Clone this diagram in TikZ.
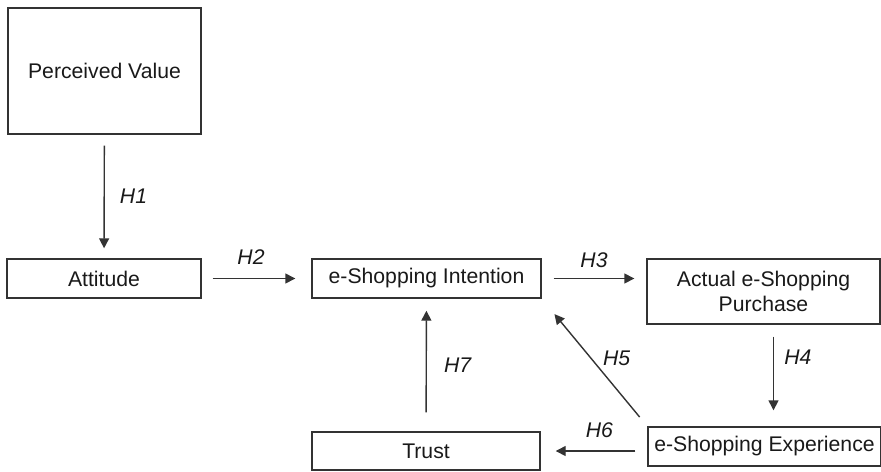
\documentclass[tikz,border=0pt]{standalone}
\usepackage{fontspec}
\setmainfont{Liberation Sans}
\usetikzlibrary{arrows.meta}

\begin{document}
\begin{tikzpicture}[x=.5pt, y=-.5pt, line width=.7pt, draw=black!80,
    every edge/.style={draw, -{Triangle[length=5pt,width=5pt]}, shorten <=6pt, shorten >=6pt}]

        \useasboundingbox (0,0) rectangle (881,471);
        \fontsize{10.6}{12.5}\selectfont

        \begin{scope}[every node/.style={draw, rectangle, inner sep=0pt, align=center, text=black!90}]
          \node[minimum width=96.5pt, minimum height=63pt]   (value)      at (104.5,71)   {Perceived Value};
          \node[minimum width=97pt,   minimum height=19.5pt] (attitude)   at (104,278.5)  {Attitude};
          \node[minimum width=114.5pt,minimum height=19.5pt] (intention)  at (426.5,278.5) {e-Shopping Intention};
          \node[minimum width=116.5pt,minimum height=32.5pt] (purchase)   at (763.5,291.5) {Actual e-Shopping\\Purchase};
          \node[minimum width=116.5pt,minimum height=19.5pt] (experience) at (764.5,446.5) {e-Shopping Experience};
          \node[minimum width=114pt,  minimum height=19pt]   (trust)      at (426,451)    {Trust};
        \end{scope}

        \begin{scope}[every node/.style={font=\itshape, text=black!90}]
          \path (value) edge[shorten <=5.5pt, shorten >=5pt] node[right=4pt] {H1} (attitude);
          \path (attitude) edge[shorten <=5.5pt, shorten >=8pt] node[above=3pt, pos=.45] {H2} (intention);
          \path (intention.east) edge node[above=1.5pt] {H3} (intention.east -| purchase.west);
          \path ([xshift=5pt]purchase.south) edge[shorten >=8pt] node[right=1.5pt, pos=.32] {H4} ([xshift=5pt]purchase.south |- experience.north);
          \path (experience.north west) edge[shorten >=10pt] node[right=2pt, pos=.53] {H5} (intention.south east);
          \path (experience.west |- trust.east) edge[shorten >=7.5pt] node[above=3pt, pos=.45] {H6} (trust.east);
          \path (trust) edge[shorten <=9.5pt] node[right=5pt] {H7} (intention);
        \end{scope}

      \end{tikzpicture}
\end{document}
